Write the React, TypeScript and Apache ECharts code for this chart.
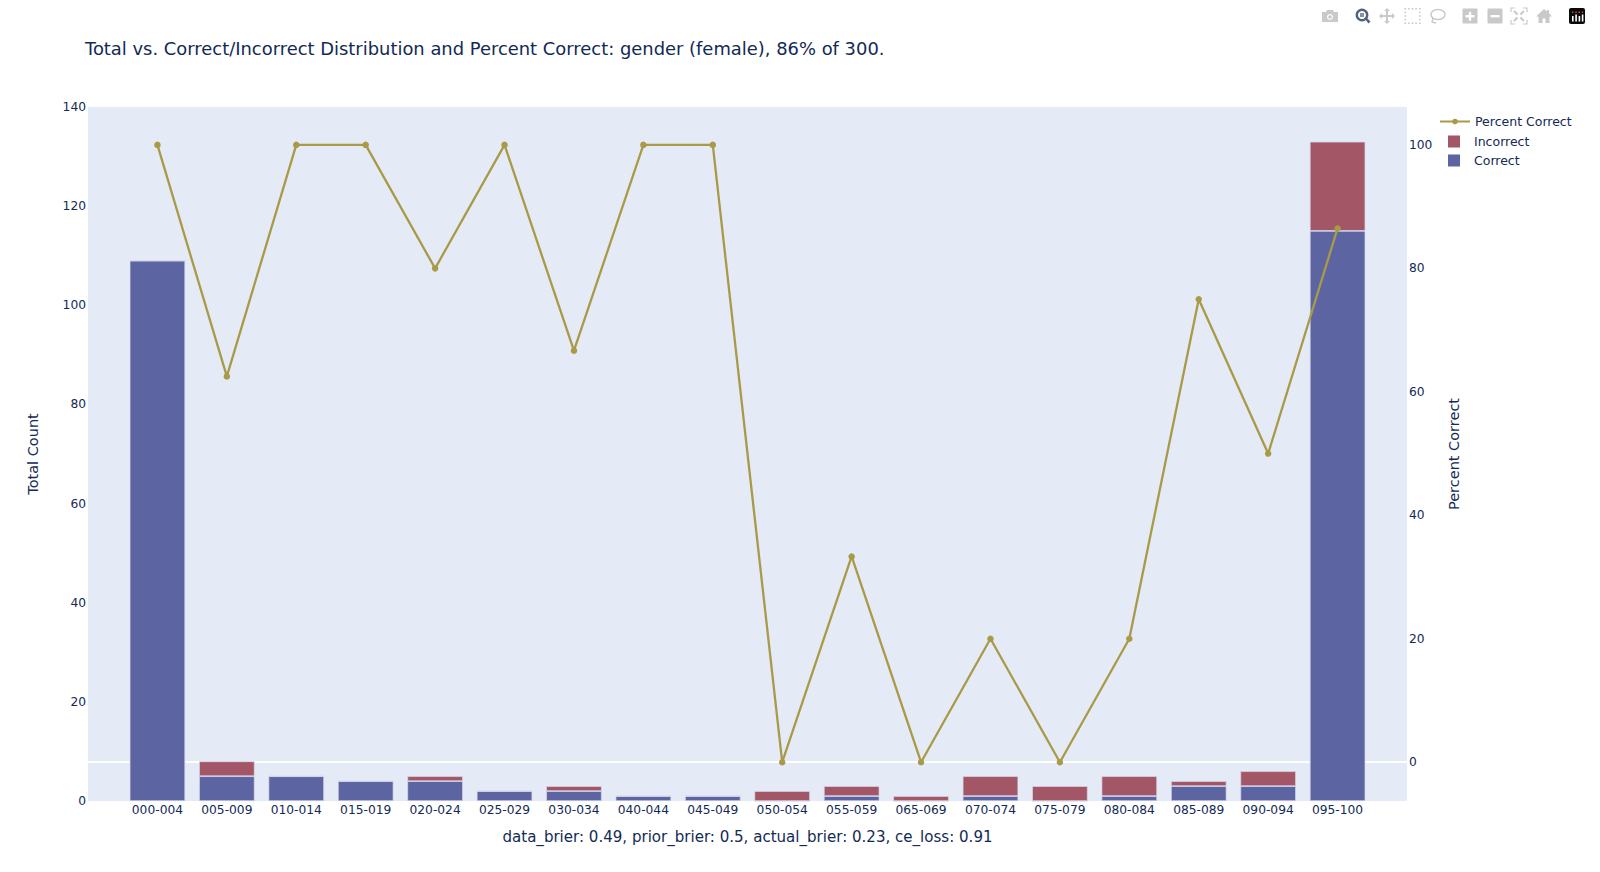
import React, { useEffect, useRef } from "react";
import * as echarts from "echarts";

const titleText = "Total vs. Correct/Incorrect Distribution and Percent Correct: gender (female), 86% of 300.";
const xTitle = "data_brier: 0.49, prior_brier: 0.5, actual_brier: 0.23, ce_loss: 0.91";
const bins = ["000-004","005-009","010-014","015-019","020-024","025-029","030-034","040-044","045-049","050-054","055-059","065-069","070-074","075-079","080-084","085-089","090-094","095-100"];
const correct = [109,5,5,4,4,2,2,1,1,0,1,0,1,0,1,3,3,115];
const incorrect = [0,3,0,0,1,0,1,0,0,2,2,1,4,3,4,1,3,18];
const percent = [100,62.5,100,100,80,100,66.67,100,100,0,33.33,0,20,0,20,75,50,86.47];
const leftTicks = [0,20,40,60,80,100,120,140];
const rightTicks = [0,20,40,60,80,100];

const FONT = "'DejaVu Sans', Verdana, sans-serif";
const INK = "#122a55";
const BLUE = "#5c65a2";
const RED = "#a35665";
const GOLD = "#a89a47";
const GREY = "#c9c9c9";
const DARK = "#52637c";
const LEGEND_SQUARE = "path://M0 0L0 0ZM30 12L30 12ZM9 0H21V12H9Z";

const pad = (a: any[]) => [null, ...a, null];

const shapes: Record<string, string> = {
  mbCamera: "M-8 -4H-4L-3 -6H3L4 -4H8V6H-8Z",
  mbPan: "M0 -8L3 -5H1V-1H5V-3L8 0L5 3V1H1V5H3L0 8L-3 5H-1V1H-5V3L-8 0L-5 -3V-1H-1V-5H-3Z",
  mbHome: "M0 -7L3 -4.5V-6H5V-3L8 0.5H5.5V7H1.5V2.5H-1.5V7H-5.5V0.5H-8Z",
  mbHandle: "M2.5 3.5L4 2L8.5 6.5L6.5 8.5Z",
};
Object.keys(shapes).forEach((k) => {
  echarts.graphic.registerShape(k, echarts.graphic.extendPath(shapes[k] as any, {}) as any);
});

function modebar(): any[] {
  const y = 16;
  const e: any[] = [];
  const dot = (x: number, yy: number) => ({ type: "rect", shape: { x, y: yy, width: 1.6, height: 1.6 }, style: { fill: GREY } });
  e.push({ type: "mbCamera", x: 1330, y, style: { fill: GREY } });
  e.push({ type: "circle", shape: { cx: 1330, cy: y + 1, r: 3 }, style: { fill: "#fff" } });
  e.push({ type: "circle", shape: { cx: 1330, cy: y + 1, r: 1.8 }, style: { fill: GREY } });
  e.push({ type: "circle", shape: { cx: 1362, cy: y - 1, r: 5.2 }, style: { fill: "none", stroke: DARK, lineWidth: 2.4 } });
  e.push({ type: "rect", shape: { x: 1360, y: y - 3, width: 4, height: 4 }, style: { fill: "#8a8fa8" } });
  e.push({ type: "mbHandle", x: 1362, y: y - 1, style: { fill: DARK } });
  e.push({ type: "mbPan", x: 1387, y, style: { fill: GREY } });
  for (let i = 0; i < 5; i++) {
    for (let j = 0; j < 5; j++) {
      if (i === 0 || i === 4 || j === 0 || j === 4) e.push(dot(1404.5 + i * 3.6, y - 8 + j * 3.6));
    }
  }
  e.push({ type: "ellipse", shape: { cx: 1438, cy: y - 1.5, rx: 7, ry: 5 }, style: { fill: "none", stroke: GREY, lineWidth: 1.5 } });
  e.push({ type: "polyline", shape: { points: [[1433, y + 2], [1432, y + 6], [1436, y + 7]] }, style: { fill: "none", stroke: GREY, lineWidth: 1.3 } });
  [1470, 1495].forEach((x, i) => {
    e.push({ type: "rect", shape: { x: x - 7.5, y: y - 7.5, width: 15, height: 15, r: 1 }, style: { fill: GREY } });
    e.push({ type: "rect", shape: { x: x - 4.5, y: y - 1, width: 9, height: 2.4 }, style: { fill: "#fff" } });
    if (i === 0) e.push({ type: "rect", shape: { x: x - 1.2, y: y - 4.2, width: 2.4, height: 9 }, style: { fill: "#fff" } });
  });
  const ax = 1519;
  [[-1, -1], [1, -1], [-1, 1], [1, 1]].forEach(([a, b]) => {
    e.push({ type: "polyline", shape: { points: [[ax + a * 8, y + b * 4], [ax + a * 8, y + b * 8], [ax + a * 4, y + b * 8]] }, style: { fill: "none", stroke: GREY, lineWidth: 1.2 } });
    e.push({ type: "line", shape: { x1: ax + a * 1.5, y1: y + b * 1.5, x2: ax + a * 5, y2: y + b * 5 }, style: { stroke: GREY, lineWidth: 2 } });
  });
  e.push({ type: "mbHome", x: 1544, y, style: { fill: GREY } });
  e.push({ type: "rect", shape: { x: 1569, y: y - 8, width: 16, height: 16, r: 2 }, style: { fill: "#0a0a0a" } });
  [1572, 1575.3, 1578.6, 1581.8].forEach((x, i) => {
    e.push({ type: "rect", shape: { x, y: y - 4.5, width: 1.4, height: 1.4 }, style: { fill: "#d6453d" } });
    e.push({ type: "rect", shape: { x, y: y - 1.5 + (i % 2 ? 0 : 1.5), width: 1.6, height: i % 2 ? 7 : 5.5 }, style: { fill: "#fff" } });
  });
  return e;
}

export default function App() {
  const ref = useRef<HTMLDivElement>(null);
  useEffect(() => {
    document.body.style.margin = "0";
    const chart = echarts.init(ref.current!, null, { renderer: "svg" });
    chart.setOption({
      animation: false,
      backgroundColor: "#ffffff",
      textStyle: { fontFamily: FONT, color: INK },
      title: {
        text: titleText,
        left: 85,
        top: 39,
        padding: 0,
        textStyle: { fontFamily: FONT, fontSize: 17.92, fontWeight: "normal", color: INK },
      },
      grid: { left: 88, right: 193, top: 107, bottom: 71, show: true, backgroundColor: "#e5ebf6", borderWidth: 0 },
      legend: [
        {
          data: ["Percent Correct"],
          orient: "vertical",
          left: 1439,
          top: 115,
          padding: 0,
          itemWidth: 30,
          itemHeight: 7,
          selectedMode: false,
          textStyle: { fontFamily: FONT, fontSize: 12.5, color: INK },
        },
        {
          data: [
            { name: "Incorrect", icon: LEGEND_SQUARE },
            { name: "Correct", icon: LEGEND_SQUARE },
          ],
          orient: "vertical",
          left: 1439,
          top: 135,
          padding: 0,
          itemGap: 6,
          itemWidth: 30,
          itemHeight: 12,
          selectedMode: false,
          itemStyle: { borderWidth: 0 },
          textStyle: { fontFamily: FONT, fontSize: 12.5, color: INK },
        },
      ],
      xAxis: {
        type: "category",
        data: pad(bins).map((b) => (b === null ? "" : b)),
        boundaryGap: false,
        axisLine: { show: false },
        axisTick: { show: false },
        splitLine: { show: false },
        axisLabel: { interval: 0, hideOverlap: false, color: INK, fontFamily: FONT, fontSize: 12.25, margin: 2.5 },
        name: xTitle,
        nameLocation: "middle",
        nameGap: 28,
        nameTextStyle: { color: INK, fontFamily: FONT, fontSize: 15.05 },
      },
      yAxis: [
        {
          type: "value",
          min: leftTicks[0],
          max: leftTicks[leftTicks.length - 1],
          interval: 20,
          axisLine: { show: false },
          axisTick: { show: false },
          splitLine: { show: false },
          axisLabel: { color: INK, fontFamily: FONT, fontSize: 12.25, margin: 2 },
          name: "Total Count",
          nameLocation: "middle",
          nameGap: 48,
          nameTextStyle: { color: INK, fontFamily: FONT, fontSize: 14.5 },
        },
        {
          type: "value",
          position: "right",
          min: -6.28,
          max: 106.14,
          axisLine: { show: false },
          axisTick: { show: false, customValues: [0] },
          splitLine: { show: true, lineStyle: { color: "#ffffff", width: 2 } },
          axisLabel: { customValues: rightTicks, color: INK, fontFamily: FONT, fontSize: 12.25, margin: 2 },
          name: "Percent Correct",
          nameLocation: "middle",
          nameGap: 39.5,
          nameTextStyle: { color: INK, fontFamily: FONT, fontSize: 14.5 },
        },
      ],
      series: [
        {
          name: "Correct",
          type: "bar",
          stack: "total",
          barWidth: 55.5,
          data: pad(correct),
          itemStyle: { color: BLUE, borderColor: "#d5d9ea", borderWidth: 0.7 },
        },
        {
          name: "Incorrect",
          type: "bar",
          stack: "total",
          barWidth: 55.5,
          data: pad(incorrect),
          itemStyle: { color: RED, borderColor: "#d5d9ea", borderWidth: 0.7 },
        },
        {
          name: "Percent Correct",
          type: "line",
          yAxisIndex: 1,
          z: 5,
          symbol: "circle",
          symbolSize: 6.5,
          showSymbol: true,
          data: pad(percent),
          lineStyle: { color: GOLD, width: 2.3 },
          itemStyle: { color: GOLD },
        },
      ],
      graphic: modebar(),
    });
    return () => chart.dispose();
  }, []);
  return <div ref={ref} style={{ position: "absolute", left: 0, top: 0, width: 1600, height: 872 }} />;
}
